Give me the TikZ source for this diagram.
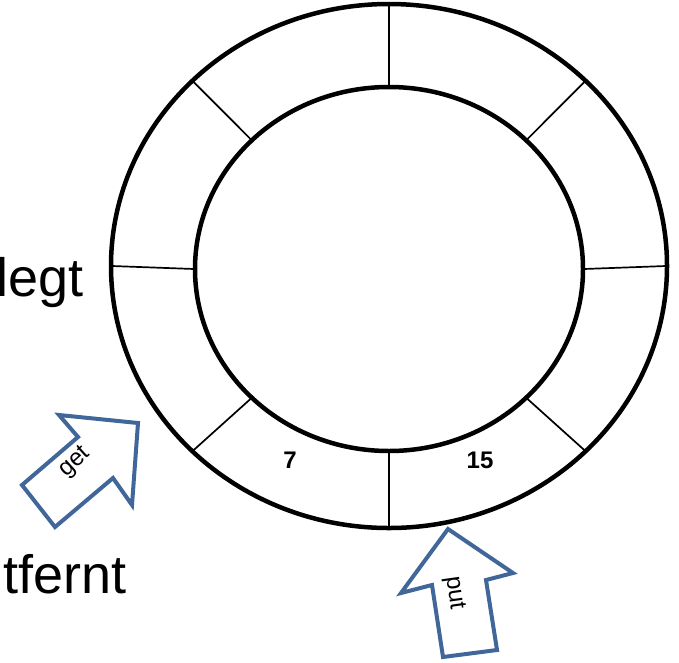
\documentclass[tikz,border=0pt]{standalone}
\usepackage{fontspec}
\setmainfont{Liberation Sans}
\usetikzlibrary{calc}
\definecolor{arrowblue}{HTML}{41679A}
\begin{document}
\begin{tikzpicture}[x=1pt,y=-1pt,
  ring/.style={line width=4.5pt},
  spoke/.style={line width=1.7pt},
  pointer/.style={draw=arrowblue,fill=white,line width=4pt,line join=miter},
  biglabel/.style={font=\fontsize{54}{60}\selectfont,inner sep=0pt,anchor=base east},
  slotlabel/.style={font=\bfseries\fontsize{24}{28}\selectfont,inner sep=0pt},
  ptrlabel/.style={font=\fontsize{24}{28}\selectfont,inner sep=0pt}]
\useasboundingbox (0,0) rectangle (679,662);

% ring buffer: outer and inner boundary
\coordinate (Co) at (389,266);
\coordinate (Ci) at (389,269);
\draw[ring] (Co) ellipse [x radius=278pt, y radius=262pt];
\draw[ring] (Ci) ellipse [x radius=194pt, y radius=182pt];

% eight slot separators
\foreach \a in {0,45,...,315} {
  \coordinate (o\a) at ($(Co)+(\a:277pt and 261pt)$);
  \coordinate (i\a) at ($(Ci)+(\a:195pt and 183pt)$);
  \draw[spoke] (o\a) -- (i\a);
}

% slot contents
\node[slotlabel] (s7) at (290,460) {7};
\node[slotlabel] (s15) at (480,460) {15};

% side captions
\node[biglabel] (legt) at (84,296) {legt};
\node[biglabel] (tfernt) at (127,593) {tfernt};

% get pointer
\draw[pointer] (138,423) -- (132,505) -- (113,478) -- (55,527) -- (22,485)
  -- (78,437) -- (59,415) -- cycle;
\node[ptrlabel,rotate=42] (get) at (75,462) {get};

% put pointer
\draw[pointer] (448,529) -- (513,573) -- (486,580) -- (497,650) -- (443,657)
  -- (432,585) -- (401,593) -- cycle;
\node[ptrlabel,rotate=-82] (put) at (454,593) {put};
\end{tikzpicture}
\end{document}
